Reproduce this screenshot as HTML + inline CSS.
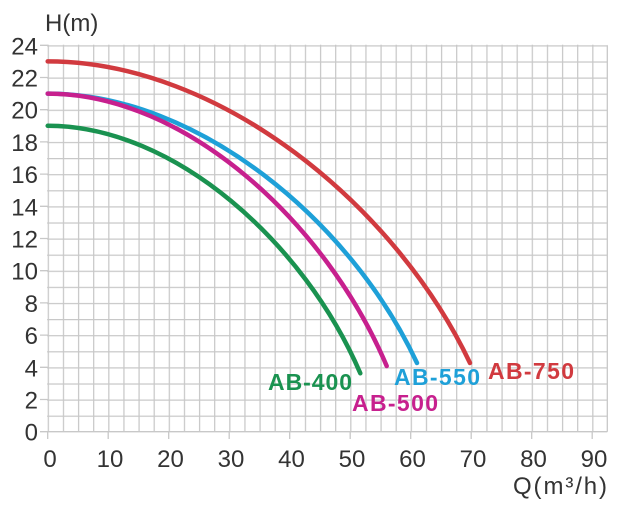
<!DOCTYPE html>
<html><head><style>body{margin:0;background:#fff}</style></head><body>
<svg width="631" height="506" xmlns="http://www.w3.org/2000/svg" font-family="Liberation Sans, sans-serif">
<defs>
<pattern id="p" patternUnits="userSpaceOnUse" x="47.7" y="45.3" width="15.125" height="16.1">
<path d="M0.6,0V16.1M0,0.6H15.125" stroke="#c8c8c8" stroke-width="1.3" fill="none"/>
</pattern>
</defs>
<rect x="47.1" y="44.7" width="560.2" height="387" fill="url(#p)"/>
<path stroke="#c8c8c8" stroke-width="1.3" fill="none" d="M607.3,45.3V431.7M47.7,431.7H607.3
M40,431.7H48M40,399.5H48M40,367.3H48M40,335.1H48M40,302.9H48M40,270.7H48M40,238.5H48M40,206.3H48M40,174.1H48M40,141.9H48M40,109.7H48M40,77.5H48M40,45.3H48
M47.7,431V439M108.2,431V439M168.7,431V439M229.2,431V439M289.7,431V439M350.2,431V439M410.7,431V439M471.2,431V439M531.7,431V439M592.2,431V439"/>
<g fill="none" stroke-width="4.5" stroke-linecap="round">
<path d="M47.7,61.4 C220,61.4 395,205 470,363" stroke="#d13a3f"/>
<path d="M47.7,93.6 C198.4,93.6 351.3,221.8 417,363" stroke="#1ea0d8"/>
<path d="M47.7,93.6 C186,93.6 326.4,223.3 386.7,366" stroke="#c7208e"/>
<path d="M47.7,125.8 C175.2,125.8 304.7,243.6 360.3,373.3" stroke="#1a9250"/>
</g>
<g font-size="24" fill="#333" text-anchor="end">
<text x="38" y="440.7">0</text><text x="38" y="408.5">2</text><text x="38" y="376.3">4</text><text x="38" y="344.1">6</text><text x="38" y="311.9">8</text><text x="38" y="279.7">10</text><text x="38" y="247.5">12</text><text x="38" y="215.3">14</text><text x="38" y="183.1">16</text><text x="38" y="150.9">18</text><text x="38" y="118.7">20</text><text x="38" y="86.5">22</text><text x="38" y="54.3">24</text>
</g>
<g font-size="24" fill="#333" text-anchor="middle">
<text x="50" y="467">0</text><text x="110" y="467">10</text><text x="170.5" y="467">20</text><text x="231" y="467">30</text><text x="291.5" y="467">40</text><text x="352" y="467">50</text><text x="412.5" y="467">60</text><text x="473" y="467">70</text><text x="533.5" y="467">80</text><text x="594" y="467">90</text>
</g>
<text x="45" y="31" font-size="24" fill="#333">H(m)</text>
<text x="513" y="494" font-size="24" fill="#333" textLength="94">Q(m³/h)</text>
<g font-size="23" font-weight="bold">
<text x="268" y="390" fill="#1a9250" textLength="84">AB-400</text>
<text x="352" y="411" fill="#c7208e" textLength="86">AB-500</text>
<text x="394" y="385" fill="#1ea0d8" textLength="86">AB-550</text>
<text x="488" y="379" fill="#d13a3f" textLength="86">AB-750</text>
</g>
</svg>
</body></html>
